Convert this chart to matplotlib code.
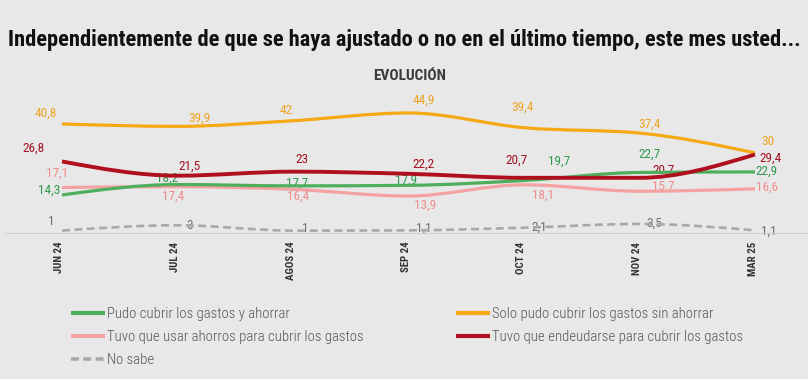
import matplotlib
matplotlib.use("Agg")
import matplotlib.pyplot as plt
import numpy as np
from matplotlib.path import Path
from matplotlib.patches import PathPatch
from matplotlib.lines import Line2D
from matplotlib.transforms import ScaledTranslation

# data
months = ["JUN 24", "JUL 24", "AGOS 24", "SEP 24", "OCT 24", "NOV 24", "MAR 25"]
pudo_ahorrar = [14.3, 18.2, 17.7, 17.9, 19.7, 22.7, 22.9]
solo_cubrir = [40.8, 39.9, 42, 44.9, 39.4, 37.4, 30]
usar_ahorros = [17.1, 17.4, 16.4, 13.9, 18.1, 15.7, 16.6]
endeudarse = [26.8, 21.5, 23, 22.2, 20.7, 20.7, 29.4]
no_sabe = [1, 3, 1, 1.1, 2.1, 3.5, 1.1]

series_names = [
    "Pudo cubrir los gastos y ahorrar",
    "Solo pudo cubrir los gastos sin ahorrar",
    "Tuvo que usar ahorros para cubrir los gastos",
    "Tuvo que endeudarse para cubrir los gastos",
    "No sabe",
]

FONT = "Roboto Condensed"
BG = "#e8e8e9"

# label offsets in pixels (dx, dy with y pointing up)
off_green = [(-13, 5), (-10, 6), (4, 3), (-2, 5), (35, 19), (10, 18), (11, 1)]
off_orange = [(-16, 11), (22, 8), (-7, 10), (15, 13), (-1, 20), (10, 9), (13, 11)]
off_pink = [(-5, 14), (-4, -10), (5, -7), (17, -9), (19, -10), (24, 5), (12, 2)]
off_red = [(-28, 13), (12, 9), (9, 12), (15, 10), (-7, 18), (24, 8), (16, -4)]
off_gray = [(-11, 9), (12, 0), (12, 2), (15, 2), (15, 0), (15, 1), (14, -1)]


def monotone_path(x, y):
    # cubic bezier segments with monotone-x tangents
    x = np.asarray(x, float)
    y = np.asarray(y, float)
    n = len(x)
    h = np.diff(x)
    s = np.diff(y) / h
    t = np.zeros(n)
    for i in range(1, n - 1):
        h0, h1 = h[i - 1], h[i]
        s0, s1 = s[i - 1], s[i]
        p = (s0 * h1 + s1 * h0) / (h0 + h1)
        t[i] = (np.sign(s0) + np.sign(s1)) * min(abs(s0), abs(s1), 0.5 * abs(p))
    t[0] = (3 * s[0] - t[1]) / 2
    t[-1] = (3 * s[-1] - t[-2]) / 2
    verts = [(x[0], y[0])]
    codes = [Path.MOVETO]
    for i in range(n - 1):
        d = h[i] / 3
        verts += [(x[i] + d, y[i] + d * t[i]), (x[i + 1] - d, y[i + 1] - d * t[i + 1]), (x[i + 1], y[i + 1])]
        codes += [Path.CURVE4] * 3
    return Path(verts, codes)


fig = plt.figure(figsize=(8.08, 3.79), dpi=100, facecolor=BG)
ax = fig.add_axes([5 / 808, (379 - 233.3) / 379, 803 / 808, (233.3 - 95) / 379])
ax.set_facecolor(BG)

xs = np.arange(len(months))
ax.set_xlim(-57 / 115.5, 6 + 53 / 115.5)
ax.set_ylim(0, 51.6)

styles = [
    # values, line colour, label colour, lw, dashes, zorder, offsets
    (no_sabe, "#a9a9a9", "#6f6f6f", 1.9, (0, (3.0, 1.7)), 2, off_gray),
    (usar_ahorros, "#f4a2a2", "#f08c8c", 2.3, None, 3, off_pink),
    (pudo_ahorrar, "#4fae5c", "#2f9a4e", 2.3, None, 4, off_green),
    (solo_cubrir, "#f5a915", "#eda422", 2.3, None, 5, off_orange),
    (endeudarse, "#b0101d", "#a5121f", 2.8, None, 6, off_red),
]

for vals, lc, tc, lw, ls, z, offs in styles:
    patch = PathPatch(monotone_path(xs, vals), fill=False, edgecolor=lc, lw=lw,
                      linestyle=ls if ls else "solid", capstyle="butt", zorder=z)
    ax.add_patch(patch)
    for i, v in enumerate(vals):
        lab = f"{v:g}".replace(".", ",")
        ax.annotate(lab, (xs[i], v), xytext=offs[i], textcoords="offset pixels",
                    ha="center", va="center", color=tc, fontsize=9.5,
                    family=FONT, zorder=1)

for side in ["top", "left", "right"]:
    ax.spines[side].set_visible(False)
ax.spines["bottom"].set_color("#cfcfcf")
ax.spines["bottom"].set_linewidth(0.8)
ax.set_yticks([])
ax.set_xticks(xs)
ax.set_xticklabels(months, rotation=90, family=FONT, fontweight="bold",
                   fontsize=7.8, color="#333333")
ax.tick_params(axis="x", length=0, pad=6)
shift = ScaledTranslation(-2.5 / 100, 0, fig.dpi_scale_trans)
for lbl in ax.get_xticklabels():
    lbl.set_transform(lbl.get_transform() + shift)

fig.text(0.5, 1 - 40 / 379, "Independientemente de que se haya ajustado o no en el último tiempo, este mes usted...",
         ha="center", va="center", family=FONT, fontweight="bold", fontsize=16.2, color="#111111")
fig.text(410 / 808, 1 - 76 / 379, "EVOLUCIÓN", ha="center", va="center", family=FONT,
         fontweight="bold", fontsize=11, color="#3a3a3a")

# legend, two blocks
line_props = dict(solid_capstyle="butt", dash_capstyle="butt")
handles = {
    "g": Line2D([], [], color="#4fae5c", lw=3, **line_props),
    "o": Line2D([], [], color="#f5a915", lw=3, **line_props),
    "p": Line2D([], [], color="#f4a2a2", lw=3, **line_props),
    "r": Line2D([], [], color="#b0101d", lw=3, **line_props),
    "n": Line2D([], [], color="#a9a9a9", lw=2.6, linestyle=(0, (2.2, 1.2)), **line_props),
}
leg_kw = dict(loc="upper left", frameon=False, borderpad=0, borderaxespad=0,
              handlelength=2.3, handletextpad=0.12, labelspacing=0.62,
              prop={"family": FONT, "size": 10.6, "weight": "light"}, labelcolor="#555555")
leg1 = fig.legend([handles["g"], handles["p"], handles["n"]],
                  [series_names[0], series_names[2], series_names[4]],
                  bbox_to_anchor=(71 / 808, 1 - 307 / 379), **leg_kw)
leg2 = fig.legend([handles["o"], handles["r"]],
                  [series_names[1], series_names[3]],
                  bbox_to_anchor=(456 / 808, 1 - 307 / 379), **leg_kw)

fig.savefig("out.png", facecolor=BG)
